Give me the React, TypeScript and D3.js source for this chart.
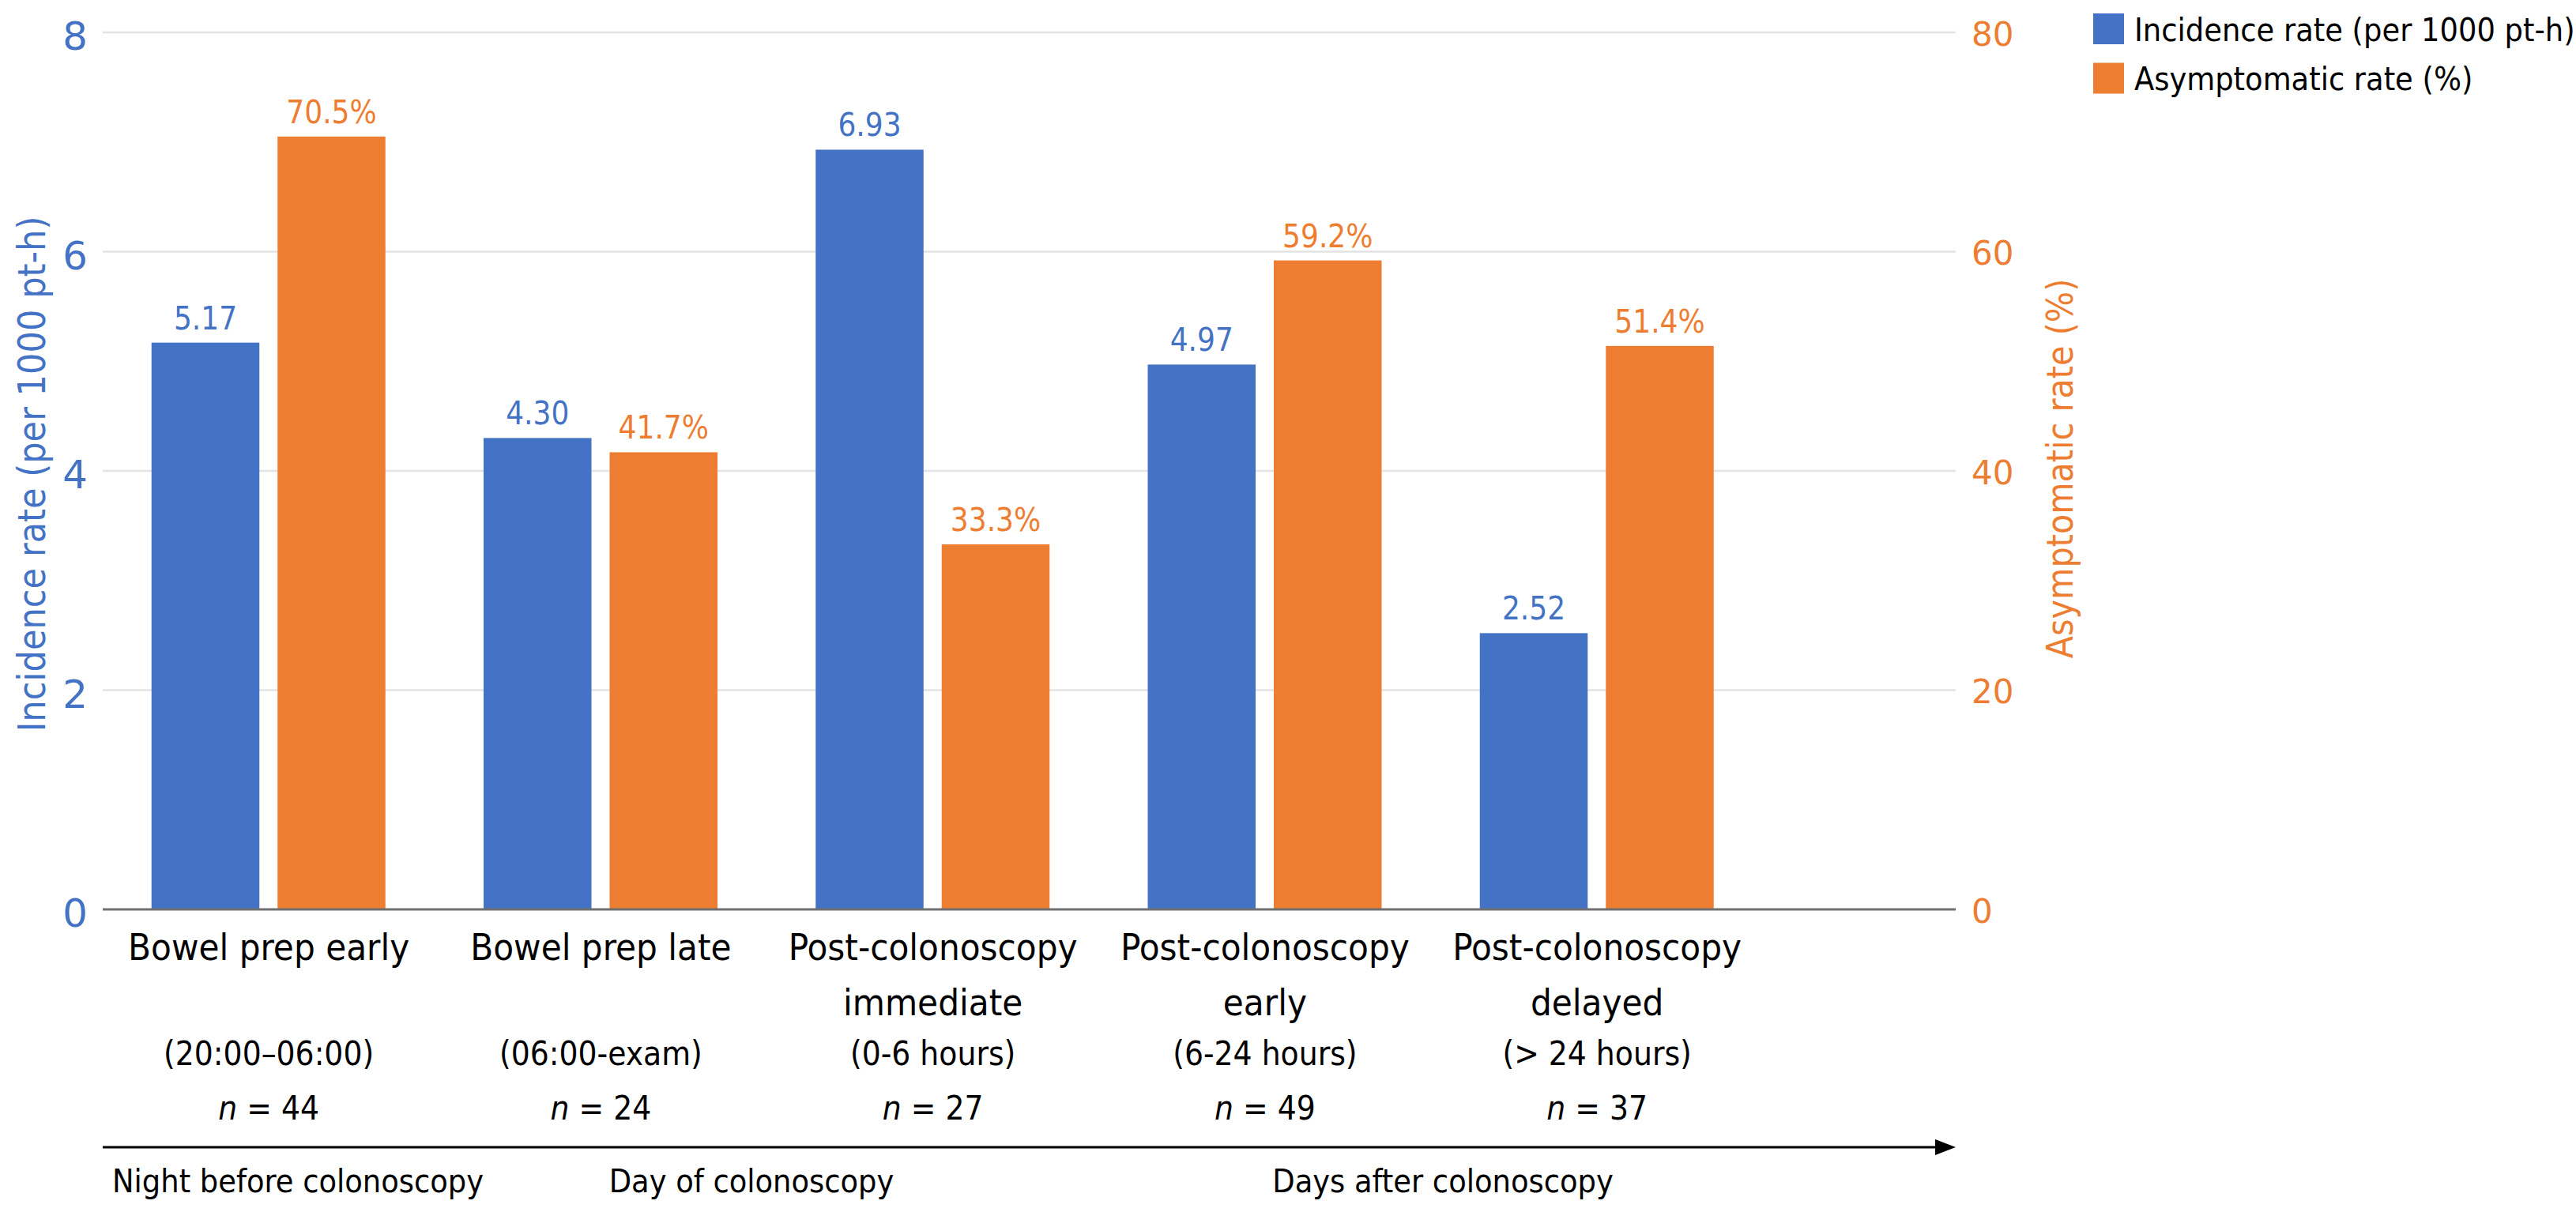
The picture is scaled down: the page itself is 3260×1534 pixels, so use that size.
import React from "react";
import * as d3 from "d3";

const categories = ["c1", "c2", "c3", "c4", "c5"];
const labelLine1 = ["Bowel prep early", "Bowel prep late", "Post-colonoscopy", "Post-colonoscopy", "Post-colonoscopy"];
const labelLine2 = ["", "", "immediate", "early", "delayed"];
const labelLine3 = ["(20:00\u201306:00)", "(06:00-exam)", "(0-6 hours)", "(6-24 hours)", "(> 24 hours)"];
const nValues = [44, 24, 27, 49, 37];
const incidence = [5.17, 4.3, 6.93, 4.97, 2.52];
const asymptomatic = [70.5, 41.7, 33.3, 59.2, 51.4];
const leftTicks = [0, 2, 4, 6, 8];
const rightTicks = [0, 20, 40, 60, 80];
const seriesNames = ["Incidence rate (per 1000 pt-h)", "Asymptomatic rate (%)"];
const phaseLabels = ["Night before colonoscopy", "Day of colonoscopy", "Days after colonoscopy"];

const BLUE = "#4472C4";
const ORANGE = "#ED7D31";
const COND = "'DejaVu Sans Condensed', 'DejaVu Sans', sans-serif";
const WIDE = "'DejaVu Sans', Verdana, sans-serif";

export default function App() {
  const W = 3260, H = 1534;
  const plotL = 130, plotR = 2475, y0 = 1151, yTop = 41;
  const band = 420.25;
  const x = d3.scaleBand<string>().domain(categories).range([plotL, plotL + band * categories.length]).padding(0);
  const inner = d3.scaleBand<string>().domain(["inc", "asym"]).range([61.75, 61.75 + 296]).paddingInner(23 / 159.5).paddingOuter(0);
  const yL = d3.scaleLinear().domain([0, 8]).range([y0, yTop]);
  const yR = d3.scaleLinear().domain([0, 80]).range([y0, yTop]);
  const fmtInc = d3.format(".2f");
  const fmtAsym = (v: number) => d3.format(".1f")(v) + "%";
  const cx = (i: number) => (x(categories[i]) as number) + x.bandwidth() / 2;
  const arrowY = 1452;

  return (
    <svg width={W} height={H} style={{ position: "absolute", left: 0, top: 0, display: "block", background: "#fff" }}>
      <rect x={0} y={0} width={W} height={H} fill="#fff" />
      {/* gridlines */}
      {leftTicks.filter((t) => t > 0).map((t) => (
        <line key={"g" + t} x1={plotL} x2={plotR} y1={yL(t)} y2={yL(t)} stroke="#E3E3E3" strokeWidth={2.5} />
      ))}
      {/* bars */}
      {categories.map((c, i) => (
        <g key={"b" + c}>
          <rect x={(x(c) as number) + (inner("inc") as number)} y={yL(incidence[i])} width={inner.bandwidth()} height={y0 - yL(incidence[i])} fill={BLUE} />
          <rect x={(x(c) as number) + (inner("asym") as number)} y={yR(asymptomatic[i])} width={inner.bandwidth()} height={y0 - yR(asymptomatic[i])} fill={ORANGE} />
          <text x={(x(c) as number) + (inner("inc") as number) + inner.bandwidth() / 2} y={yL(incidence[i]) - 17} textAnchor="middle" fontFamily={COND} fontStretch="condensed" fontSize={40} fill={BLUE}>{fmtInc(incidence[i])}</text>
          <text x={(x(c) as number) + (inner("asym") as number) + inner.bandwidth() / 2} y={yR(asymptomatic[i]) - 17} textAnchor="middle" fontFamily={COND} fontStretch="condensed" fontSize={40} fill={ORANGE}>{fmtAsym(asymptomatic[i])}</text>
        </g>
      ))}
      {/* zero axis */}
      <line x1={plotL} x2={plotR} y1={y0} y2={y0} stroke="#707070" strokeWidth={3} />
      {/* left ticks */}
      {leftTicks.map((t) => (
        <text key={"lt" + t} x={111} y={yL(t) + 22} textAnchor="end" fontFamily={WIDE} fontSize={50} fill={BLUE}>{t}</text>
      ))}
      {/* right ticks */}
      {rightTicks.map((t) => (
        <text key={"rt" + t} x={2495} y={yR(t) + 16.5} textAnchor="start" fontFamily={WIDE} fontSize={42} fill={ORANGE}>{t}</text>
      ))}
      {/* axis titles */}
      <text transform={`translate(57,600) rotate(-90)`} textAnchor="middle" fontFamily={COND} fontStretch="condensed" fontSize={48} fill={BLUE}>{seriesNames[0]}</text>
      <text transform={`translate(2623,593) rotate(-90)`} textAnchor="middle" fontFamily={COND} fontStretch="condensed" fontSize={46} fill={ORANGE}>{seriesNames[1]}</text>
      {/* category labels */}
      {categories.map((c, i) => (
        <g key={"cl" + c} fontFamily={COND} fontStretch="condensed" fill="#000" textAnchor="middle">
          <text x={cx(i)} y={1215} fontSize={47}>{labelLine1[i]}</text>
          {labelLine2[i] && <text x={cx(i)} y={1285} fontSize={47}>{labelLine2[i]}</text>}
          <text x={cx(i)} y={1348} fontSize={42}>{labelLine3[i]}</text>
          <text x={cx(i)} y={1417} fontSize={42}>
            <tspan fontStyle="italic">n</tspan>
            <tspan>{" = " + nValues[i]}</tspan>
          </text>
        </g>
      ))}
      {/* timeline arrow */}
      <line x1={plotL} x2={2452} y1={arrowY} y2={arrowY} stroke="#000" strokeWidth={3} />
      <path d={`M2475,${arrowY} L2449,${arrowY - 10} L2449,${arrowY + 10} Z`} fill="#000" />
      <g fontFamily={COND} fontStretch="condensed" fontSize={41} fill="#000">
        <text x={142} y={1509} textAnchor="start">{phaseLabels[0]}</text>
        <text x={951} y={1509} textAnchor="middle">{phaseLabels[1]}</text>
        <text x={1826} y={1509} textAnchor="middle">{phaseLabels[2]}</text>
      </g>
      {/* legend */}
      {seriesNames.map((s, i) => (
        <g key={"lg" + i}>
          <rect x={2649} y={17 + i * 62.5} width={39} height={39} fill={i === 0 ? BLUE : ORANGE} />
          <text x={2701} y={52 + i * 62} fontFamily={COND} fontStretch="condensed" fontSize={41} fill="#000">{s}</text>
        </g>
      ))}
    </svg>
  );
}
